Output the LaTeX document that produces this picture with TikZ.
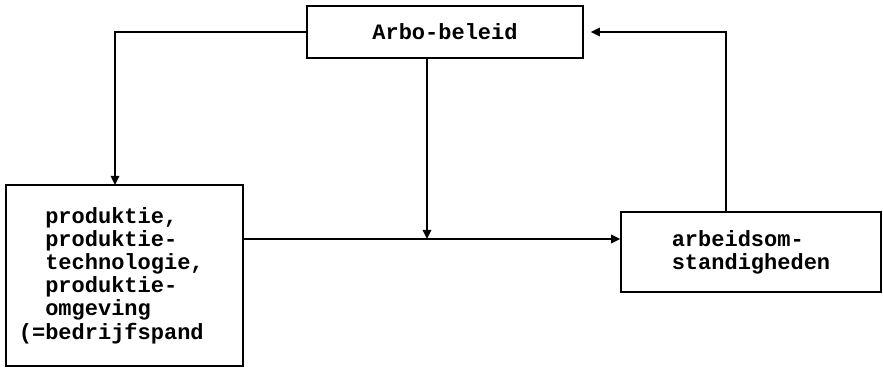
\documentclass[tikz,border=0pt]{standalone}
\usepackage{fontspec}
\setmonofont{Liberation Mono}
\usetikzlibrary{arrows.meta}
\tikzstyle{box}=[draw=black, line width=.8pt, shape=rectangle, font=\ttfamily\bfseries\fontsize{11}{11.6}\selectfont, align=left, inner sep=0pt]
\tikzstyle{pijl}=[line width=.8pt, -{Triangle[length=4.5pt,width=4.2pt]}]

\begin{document}
\begin{tikzpicture}[x=.5pt, y=-.5pt]
		\useasboundingbox (0, 0) rectangle (883, 368);

		\node [style=box, minimum width=138pt, minimum height=26pt] (beleid) at (445, 32) {Arbo-beleid};
		\node [style=box, minimum width=118.5pt, minimum height=90.5pt] (produktie) at (124.5, 275.5) {produktie,\\produktie-\\technologie,\\produktie-\\omgeving\\\llap{(=}bedrijfspand};
		\node [style=box, minimum width=130pt, minimum height=40pt] (omstandigheden) at (751, 252) {arbeidsom-\\standigheden};

		\coordinate (in) at (115, 185);
		\coordinate (kruis) at (427, 239);
		\coordinate (terug) at (726, 0);

		\draw [style=pijl] (beleid.west) -| (in);
		\draw [style=pijl] (beleid.south -| kruis) to (kruis);
		\draw [style=pijl] (kruis -| produktie.east) to (kruis -| omstandigheden.west);
		\draw [style=pijl, shorten >=3.5pt] (omstandigheden.north -| terug) |- (beleid.east);
	\end{tikzpicture}
\end{document}
